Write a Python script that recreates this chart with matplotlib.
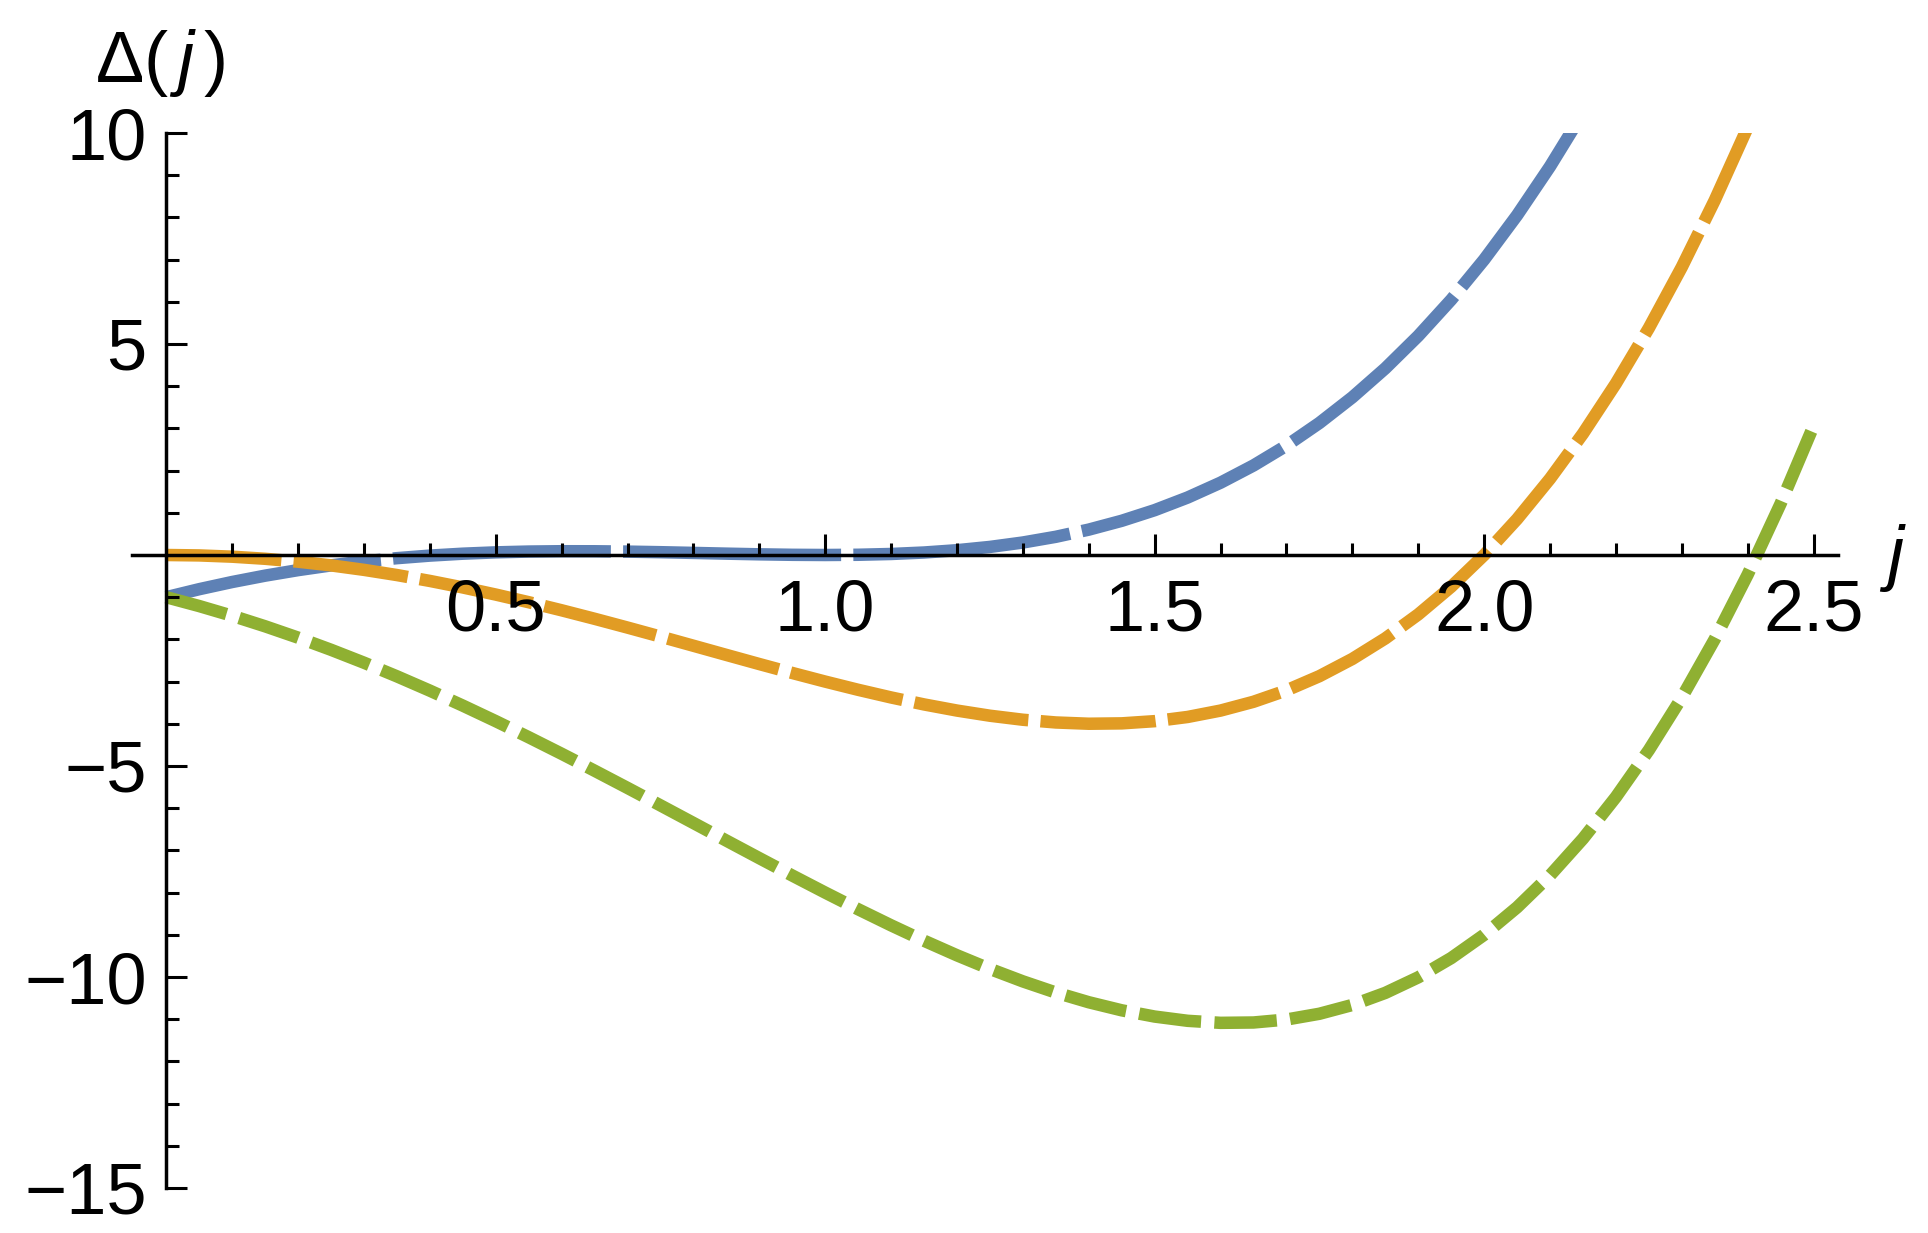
import matplotlib
matplotlib.use("Agg")
import matplotlib.pyplot as plt
from matplotlib.ticker import FixedLocator

plt.rcParams['font.family'] = ['Liberation Sans', 'DejaVu Sans']
plt.rcParams['mathtext.fontset'] = 'custom'
plt.rcParams['mathtext.rm'] = 'Liberation Sans'
plt.rcParams['mathtext.it'] = 'Liberation Sans:italic'
plt.rcParams['lines.scale_dashes'] = False

# ---- data ----
j_grid = [0.00, 0.05, 0.10, 0.15, 0.20, 0.25, 0.30, 0.35, 0.40, 0.45,
          0.50, 0.55, 0.60, 0.65, 0.70, 0.75, 0.80, 0.85, 0.90, 0.95,
          1.00, 1.05, 1.10, 1.15, 1.20, 1.25, 1.30, 1.35, 1.40, 1.45,
          1.50, 1.55, 1.60, 1.65, 1.70, 1.75, 1.80, 1.85, 1.90, 1.95,
          2.00, 2.05, 2.10, 2.15, 2.20, 2.25, 2.30, 2.35, 2.40, 2.45, 2.50]

delta_blue = [-1.0, -0.810, -0.640, -0.4895, -0.3584, -0.2461, -0.1519, -0.0750, -0.0144, 0.0310,
              0.0625, 0.0815, 0.0896, 0.0885, 0.0801, 0.0664, 0.0496, 0.0320, 0.0161, 0.0045,
              0.0, 0.0055, 0.0241, 0.0590, 0.1136, 0.1914, 0.2961, 0.4315, 0.6016, 0.8105,
              1.0625, 1.3620, 1.7136, 2.1220, 2.5921, 3.1289, 3.7376, 4.4235, 5.1921, 6.0490,
              7.0, 8.0510, 9.2081, 10.4775]

delta_orange = [0.0, -0.0100, -0.0399, -0.0895, -0.1584, -0.2461, -0.3519, -0.4750, -0.6144, -0.7690,
                -0.9375, -1.1185, -1.3104, -1.5115, -1.7199, -1.9336, -2.1504, -2.3680, -2.5839, -2.7955,
                -3.0, -3.1945, -3.3759, -3.5410, -3.6864, -3.8086, -3.9039, -3.9685, -3.9984, -3.9895,
                -3.9375, -3.8380, -3.6864, -3.4780, -3.2079, -2.8711, -2.4624, -1.9765, -1.4079, -0.7510,
                0.0, 0.8510, 1.8081, 2.8775, 4.0656, 5.3789, 6.8241, 8.4080, 10.1376]

delta_green = [-1.0, -1.2100, -1.4399, -1.6895, -1.9584, -2.2461, -2.5519, -2.8750, -3.2144, -3.5690,
               -3.9375, -4.3185, -4.7104, -5.1115, -5.5199, -5.9336, -6.3504, -6.7680, -7.1839, -7.5955,
               -8.0, -8.3945, -8.7759, -9.1410, -9.4864, -9.8086, -10.1039, -10.3685, -10.5984, -10.7895,
               -10.9375, -11.0380, -11.0864, -11.0780, -11.0079, -10.8711, -10.6624, -10.3765, -10.0079, -9.5510,
               -9.0, -8.3490, -7.5919, -6.7225, -5.7344, -4.6211, -3.3759, -1.9920, -0.4624, 1.2200, 3.0625]

x_major = [0.5, 1.0, 1.5, 2.0, 2.5]
x_labels = ["0.5", "1.0", "1.5", "2.0", "2.5"]
y_major = [-15, -10, -5, 5, 10]
y_labels = ["\u221215", "\u221210", "\u22125", "5", "10"]

# ---- figure ----
W, H = 1928, 1233
fig = plt.figure(figsize=(W / 100, H / 100), dpi=100)
ax = fig.add_axes([132 / W, 1 - 1188 / H, (1838 - 132) / W, (1188 - 133) / H])
ax.set_facecolor('none')

lw = 9.0
ax.plot(j_grid[:len(delta_blue)], delta_blue, color='#5E81B5', lw=lw,
        dashes=(157, 8.8), solid_capstyle='butt', dash_capstyle='butt')
ax.plot(j_grid[:len(delta_orange)], delta_orange, color='#E19C24', lw=lw,
        dashes=(83, 8.8), dash_capstyle='butt')
ax.plot(j_grid[:len(delta_green)], delta_green, color='#8FB032', lw=lw,
        dashes=(45, 9.6), dash_capstyle='butt')

ax.set_xlim(-0.052, 2.537)
ax.set_ylim(-15, 10)

for s in ['top', 'right']:
    ax.spines[s].set_visible(False)
ax.spines['left'].set_position(('data', 0))
ax.spines['bottom'].set_position(('data', 0))
for s in ['left', 'bottom']:
    ax.spines[s].set_linewidth(2.5)
    ax.spines[s].set_zorder(5)
ax.set_axisbelow(False)

ax.xaxis.set_major_locator(FixedLocator(x_major))
ax.set_xticklabels(x_labels)
ax.xaxis.set_minor_locator(FixedLocator([0.1, 0.2, 0.3, 0.4, 0.6, 0.7, 0.8, 0.9,
                                         1.1, 1.2, 1.3, 1.4, 1.6, 1.7, 1.8, 1.9,
                                         2.1, 2.2, 2.3, 2.4]))
ax.yaxis.set_major_locator(FixedLocator(y_major))
ax.set_yticklabels(y_labels)
ax.yaxis.set_minor_locator(FixedLocator([-14, -13, -12, -11, -9, -8, -7, -6, -4, -3, -2, -1,
                                         1, 2, 3, 4, 6, 7, 8, 9]))

ax.tick_params(axis='both', which='major', direction='in', length=15, width=2.2,
               labelsize=52, colors='black')
ax.tick_params(axis='both', which='minor', direction='in', length=9, width=2.2)
ax.tick_params(axis='x', which='major', pad=17)
ax.tick_params(axis='y', which='major', pad=14)

fig.text(160 / W, 1 - 82 / H, r'$\Delta(\,j\,)$', fontsize=52, ha='center', va='baseline')
fig.text(1893 / W, 1 - 577 / H, r'$j$', fontsize=52, ha='center', va='baseline')

fig.savefig('out.png', dpi=100, facecolor='white')
